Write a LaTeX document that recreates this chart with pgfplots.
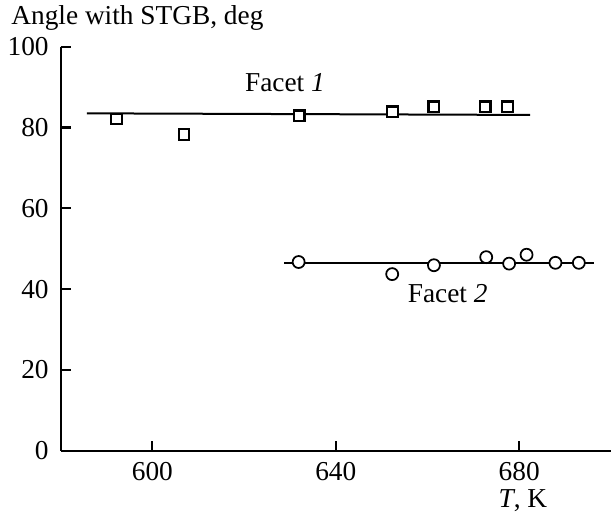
\documentclass[border=0pt]{standalone}
\usepackage{fontspec}
\setmainfont{Liberation Serif}
\usepackage{pgfplots}
\pgfplotsset{compat=1.18}
\begin{document}
\fontsize{20.5}{24}\selectfont
\begin{tikzpicture}
\path[use as bounding box] (0,0) rectangle (458.25pt,384pt);
\begin{axis}[
  at={(45.5pt,46pt)}, anchor=south west,
  scale only axis, width=412.7pt, height=303pt,
  xmin=580, xmax=700, ymin=0, ymax=100,
  axis x line=bottom, axis y line=left, axis line style={-, line width=1.6pt},
  xtick={600,640,680}, ytick={0,20,40,60,80,100},
  xtick pos=bottom, ytick pos=left,
  tick align=inside, major tick length=7.5pt,
  tick style={black, line width=1.6pt},
  /pgf/number format/assume math mode=true,
  /pgf/number format/set thousands separator={},
  tick label style={font=\fontsize{20.5}{24}\selectfont},
  xticklabel style={yshift=-1.5pt},
  yticklabel style={xshift=-2pt},
  clip=false,
  every axis y label/.style={at={(axis description cs:0,1)}, anchor=base west, xshift=-44pt, yshift=16.3pt, font=\fontsize{20.5}{24}\selectfont},
  ylabel={Angle with STGB, deg},
  every axis x label/.style={at={(axis description cs:0.84,0)}, anchor=base, yshift=-42.5pt, font=\fontsize{20.5}{24}\selectfont},
  xlabel={\textit{T}, K},
]
\addplot[black, line width=1.5pt] coordinates {(585.7,83.5) (682.4,83.1)};
\addplot[black, line width=1.5pt] coordinates {(628.8,46.5) (696.3,46.5)};
\addplot[only marks, mark=square*, mark size=4pt, mark options={fill=white, draw=black, line width=1.7pt}] coordinates {
(592.2,82.1) (606.9,78.3) (632.0,82.9) (652.4,83.9) (661.4,85.1) (672.6,85.1) (677.4,85.1)};
\addplot[only marks, mark=*, mark size=4.5pt, mark options={fill=white, draw=black, line width=1.3pt}] coordinates {
(631.9,46.7) (652.3,43.7) (661.4,45.9) (672.8,47.9) (677.8,46.3) (681.6,48.5) (687.9,46.5) (693.0,46.5)};
\node[anchor=base, font=\fontsize{20.5}{24}\selectfont] at (axis cs:628.9,88.9) {Facet \textit{1}};
\node[anchor=base, font=\fontsize{20.5}{24}\selectfont] at (axis cs:664.4,36.6) {Facet \textit{2}};
\end{axis}
\end{tikzpicture}
\end{document}
